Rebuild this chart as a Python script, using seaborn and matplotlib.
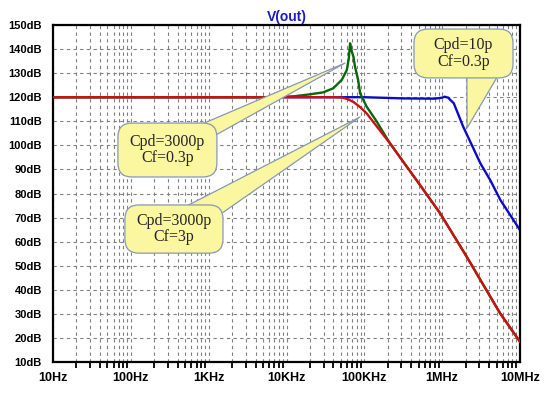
import numpy as np
import pandas as pd
import matplotlib.pyplot as plt
import seaborn as sns
from matplotlib.patches import FancyBboxPatch
from matplotlib.ticker import LogLocator, NullFormatter

# Gain curves: frequency in Hz, gain in dB
red_freq = [10, 4e4, 5.1e4, 6e4, 7.2e4, 8.9e4, 1.07e5, 1.45e5, 2.14e5, 3.16e5,
            5.2e5, 9.4e5, 2.07e6, 5.56e6, 1e7]
red_db = [120, 120, 119.9, 119.3, 118.1, 115.8, 113.3, 107.8, 100.8, 93.2,
          83.5, 71.8, 53.7, 30.2, 18.4]

green_freq = [10, 6.3e3, 1.26e4, 2e4, 2.95e4, 3.98e4, 5.13e4, 5.96e4, 6.31e4, 6.56e4,
              6.84e4, 7.24e4, 7.59e4, 8.32e4, 8.83e4, 1.07e5, 1.45e5, 1.66e5,
              2.14e5, 3.16e5, 5.2e5, 9.4e5, 2.07e6, 5.56e6, 1e7]
green_db = [120, 120, 120.4, 121.2, 122, 123.7, 127.2, 131.3, 136, 142.4,
            139.5, 136.8, 132.7, 127.2, 121.6, 116.1, 109.8, 106.6,
            100.8, 93.2, 83.5, 71.8, 53.7, 30.2, 18.4]

blue_freq = [10, 1e5, 1.6e5, 3.2e5, 8e5, 1e6, 1.07e6, 1.2e6, 1.26e6, 1.41e6,
             1.86e6, 3.1e6, 4.14e6, 5.6e6, 1e7]
blue_db = [120, 120, 119.8, 119.5, 119.4, 119.8, 120.2, 119.8, 119.0, 117.5,
           107.8, 92.5, 85.6, 77.3, 64.8]

x_ticks = [10, 100, 1e3, 1e4, 1e5, 1e6, 1e7]
x_labels = ["10Hz", "100Hz", "1KHz", "10KHz", "100KHz", "1MHz", "10MHz"]
y_ticks = list(range(10, 151, 10))
y_labels = [f"{v}dB" for v in y_ticks]

notes = ["Cpd=3000p\nCf=0.3p", "Cpd=3000p\nCf=3p", "Cpd=10p\nCf=0.3p"]
note_tips = [(5.66e4, 134.2), (8.8e4, 111.8), (2.09e6, 107.2)]

sns.set_theme(style="white")
plt.rcParams['font.family'] = ['Liberation Sans', 'DejaVu Sans']

fig = plt.figure(figsize=(5.45, 3.93), dpi=100)
ax = fig.add_axes([53 / 545, 1 - 362 / 393, 467 / 545, 337 / 393])

sns.lineplot(x=blue_freq, y=blue_db, color="#0a0ac8", lw=1.7, ax=ax, zorder=2)
sns.lineplot(x=green_freq, y=green_db, color="#0b650b", lw=1.7, ax=ax, zorder=3)
sns.lineplot(x=red_freq, y=red_db, color="#cc1010", lw=1.7, ax=ax, zorder=3.5)

ax.set_xscale("log")
ax.set_xlim(10, 1e7)
ax.set_ylim(10, 150)
ax.set_xticks(x_ticks, x_labels)
ax.xaxis.set_minor_locator(LogLocator(base=10, subs=np.arange(2, 10)))
ax.xaxis.set_minor_formatter(NullFormatter())
ax.set_yticks(y_ticks, y_labels)

grid_kw = dict(color="#808080", ls=(0, (3, 3)), lw=0.8)
ax.grid(which="major", axis="both", **grid_kw)
ax.grid(which="minor", axis="x", **grid_kw)

for s in ax.spines.values():
    s.set_color("black")
    s.set_linewidth(1.6)

ax.tick_params(axis="x", which="major", direction="out", length=5, width=1.5,
               color="black", labelsize=9, pad=2)
ax.tick_params(axis="x", which="minor", direction="out", length=4, width=1.3,
               color="black", bottom=True)
ax.tick_params(axis="y", which="major", direction="out", length=7, width=1.8,
               color="black", labelsize=8, pad=1)
for lab in ax.get_xticklabels() + ax.get_yticklabels():
    lab.set_fontweight("bold")
    lab.set_color("black")
ax.set_xlabel("")
ax.set_ylabel("")

ax.set_title("V(out)", color="#1a1acc", fontsize=10, fontweight="bold", pad=3)

# callout boxes (axes fraction), wedge start points and widths
boxes = [(0.139, 0.549, 0.212, 0.160), (0.154, 0.323, 0.210, 0.143), (0.773, 0.843, 0.212, 0.145)]
starts = [(0.245, 0.629), (0.259, 0.395), (0.929, 0.911)]
tails = [1.5, 2.1, 3.0]
fill, edge = "#fbf6a0", "#8799b3"

for txt, tip, (bx, by, bw, bh), st, tw in zip(notes, note_tips, boxes, starts, tails):
    ax.annotate("", xy=tip, xycoords="data", xytext=st, textcoords="axes fraction",
                arrowprops=dict(arrowstyle=f"wedge,tail_width={tw}", fc=fill, ec=edge,
                                lw=0.9, mutation_scale=10, shrinkA=0, shrinkB=0),
                zorder=5, annotation_clip=False)
    patch = FancyBboxPatch((bx, by), bw, bh, boxstyle="round,pad=0,rounding_size=0.03",
                           mutation_aspect=467 / 337, transform=ax.transAxes,
                           fc=fill, ec=edge, lw=0.9, zorder=6, clip_on=False)
    ax.add_patch(patch)
    ax.text(bx + bw / 2, by + bh / 2, txt, transform=ax.transAxes, ha="center", va="center",
            family="Liberation Serif", fontsize=11.5, linespacing=1.05, zorder=7)

fig.savefig("out.png", dpi=100)
